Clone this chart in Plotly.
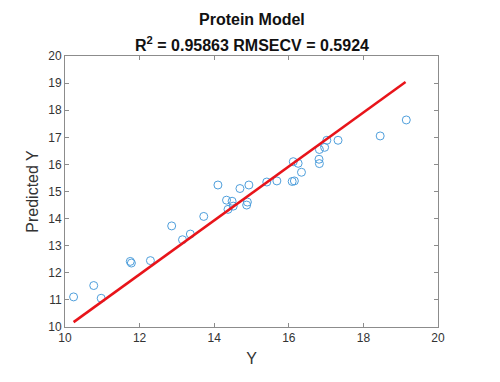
import plotly.graph_objects as go

measured_y = [10.23, 10.77, 10.97, 11.75, 11.78, 12.29, 12.86, 13.15, 13.36, 13.72,
              14.10, 14.33, 14.37, 14.48, 14.51, 14.69, 14.89, 14.87, 14.93,
              15.41, 15.68, 16.09, 16.15, 16.34, 16.25, 16.12, 16.82, 16.81,
              16.82, 16.96, 17.02, 17.32, 18.45, 19.15]
predicted_y = [11.11, 11.53, 11.06, 12.42, 12.36, 12.45, 13.73, 13.22, 13.43, 14.08,
               15.24, 14.68, 14.34, 14.64, 14.46, 15.11, 14.61, 14.50, 15.24,
               15.35, 15.39, 15.37, 15.39, 15.71, 16.04, 16.10, 16.03, 16.19,
               16.55, 16.63, 16.89, 16.89, 17.05, 17.64]
fit_x = [10.23, 19.13]
fit_y = [10.18, 19.04]

x_ticks = [10, 12, 14, 16, 18, 20]
y_ticks = [10, 11, 12, 13, 14, 15, 16, 17, 18, 19, 20]

font_family = "Liberation Sans, Arial, sans-serif"

fig = go.Figure()
fig.add_trace(go.Scatter(
    x=measured_y, y=predicted_y, mode="markers",
    marker=dict(symbol="circle-open", size=8, color="#4f9fdc", line=dict(width=1)),
    showlegend=False))
fig.add_trace(go.Scatter(
    x=fit_x, y=fit_y, mode="lines",
    line=dict(color="#e8141a", width=2.5), showlegend=False))

axis_common = dict(
    showgrid=False, zeroline=False, showline=True, linecolor="#8c8c8c", linewidth=1,
    mirror="ticks", ticks="inside", ticklen=4, tickcolor="#8c8c8c",
    tickfont=dict(family=font_family, size=12, color="#333333"))

fig.update_xaxes(range=[10, 20], tickvals=x_ticks, **axis_common,
                 title=dict(text="Y", font=dict(family=font_family, size=16, color="#333333"), standoff=8))
fig.update_yaxes(range=[10, 20], tickvals=y_ticks, **axis_common,
                 title=dict(text="Predicted Y", font=dict(family=font_family, size=16, color="#333333"), standoff=5))

fig.add_annotation(text="<b>Protein Model</b>", xref="paper", yref="paper", x=0.5, y=1.135,
                   showarrow=False, yanchor="middle",
                   font=dict(family=font_family, size=16, color="#111111"))
fig.add_annotation(text="<b>R<sup>2</sup> = 0.95863 RMSECV = 0.5924</b>", xref="paper", yref="paper",
                   x=0.5, y=1.045, showarrow=False, yanchor="middle",
                   font=dict(family=font_family, size=16, color="#111111"))

fig.update_layout(
    width=500, height=382,
    margin=dict(l=57, r=70, t=48, b=63),
    paper_bgcolor="white", plot_bgcolor="white",
    font=dict(family=font_family))

fig.write_html("out.html")
